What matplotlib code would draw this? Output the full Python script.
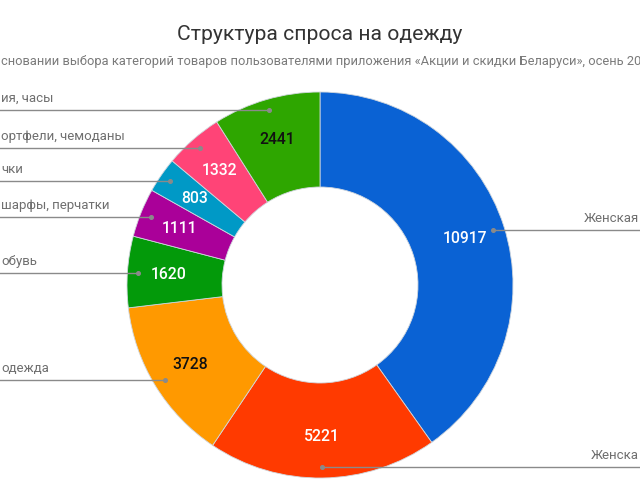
import numpy as np
import matplotlib
matplotlib.use("Agg")
import matplotlib.pyplot as plt

plt.rcParams['font.family'] = ['Roboto', 'DejaVu Sans']

title = "Структура спроса на одежду"
# visible (cropped) parts of the subtitle and slice labels, as shown in the reference
subtitle = "сновании выбора категорий товаров пользователями приложения «Акции и скидки Беларуси», осень 20"
categories = ["Женская", "Женска", "одежда", "обувь",
              "шарфы, перчатки", "чки", "ортфели, чемоданы", "ия, часы"]
values = [10917, 5221, 3728, 1620, 1111, 803, 1332, 2441]
colors = ['#0A62D4', '#FF3A00', '#FF9900', '#039A0A', '#AA0099', '#0099C6', '#FF4477', '#2EA600']
value_colors = ['white', 'white', '#111111', 'white', 'white', 'white', 'white', '#111111']

W, H = 640, 480
fig = plt.figure(figsize=(6.4, 4.8), dpi=100)
ax = fig.add_axes([0, 0, 1, 1])

cx, cy = 320, 480 - 285
R = 193
ring = 95

wedges, _ = ax.pie(values, colors=colors, startangle=90, counterclock=False,
                   center=(cx, cy), radius=R, frame=True,
                   wedgeprops=dict(width=ring, edgecolor='#cfd6dd', linewidth=0.6))
ax.set_xlim(0, W)
ax.set_ylim(0, H)
ax.set_aspect('equal')
ax.axis('off')

total = sum(values)
cum = np.cumsum([0] + values)
for i, (cat, v) in enumerate(zip(categories, values)):
    mid = (cum[i] + v / 2) / total * 2 * np.pi  # clockwise from top
    sx, sy = np.sin(mid), np.cos(mid)
    # value label
    rv = 152
    ax.text(cx + rv * sx, cy + rv * sy, f"{v}", ha='center', va='center',
            fontsize=11.3, color=value_colors[i], fontweight='medium')
    # leader
    rd = 182
    dx, dy = cx + rd * sx, cy + rd * sy
    ax.plot([dx], [dy], 'o', ms=2.6, color='#8a8a8a', zorder=5)
    if sx >= 0:
        ax.plot([dx, W], [dy, dy], color='#8a8a8a', lw=1.0)
        ax.text(W - 1, dy + 5, cat, ha='right', va='bottom', fontsize=9.5, color='#6f6f6f')
    else:
        ax.plot([0, dx], [dy, dy], color='#8a8a8a', lw=1.0)
        ax.text(1, dy + 5, cat, ha='left', va='bottom', fontsize=9.5, color='#6f6f6f')

fig.text(0.5, 1 - 35 / H, title, ha='center', va='center', fontsize=15.2, color='#333333')
fig.text(1 / W, 1 - 62 / H, subtitle, ha='left', va='center', fontsize=9.3, color='#7a7a7a')

fig.savefig('out.png', dpi=100, facecolor='white')
